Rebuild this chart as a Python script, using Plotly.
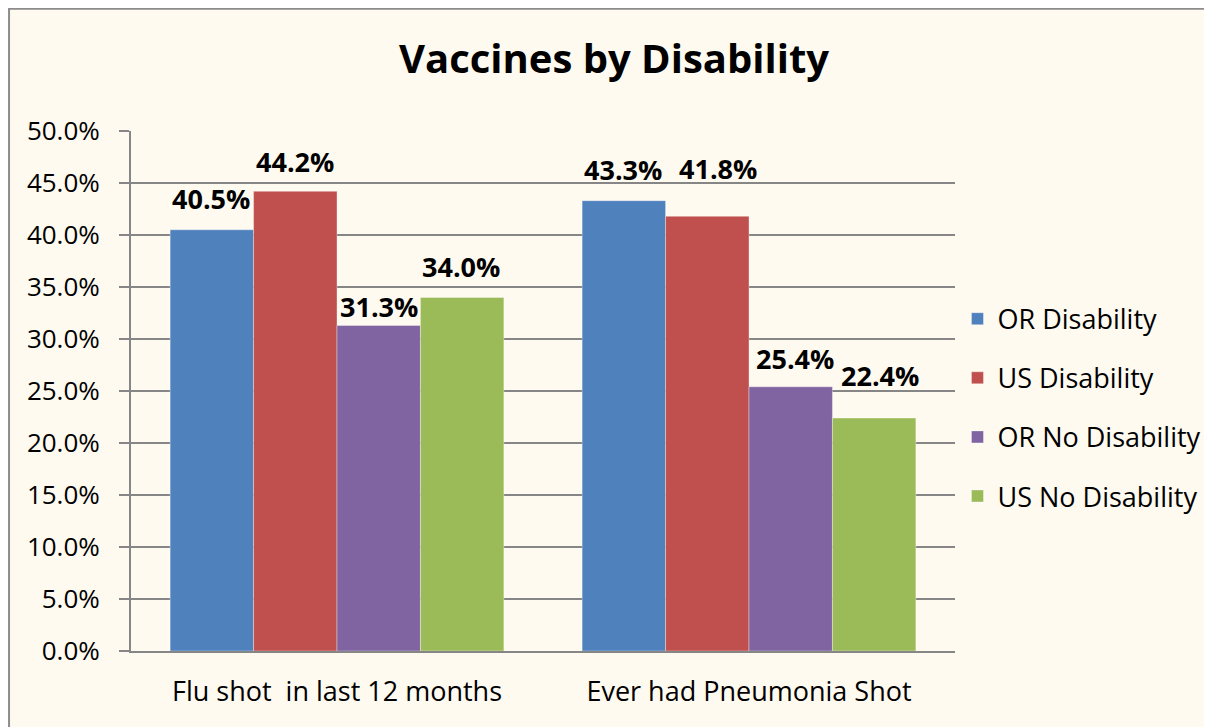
import plotly.graph_objects as go

categories = ["Flu shot  in last 12 months", "Ever had Pneumonia Shot"]
series_names = ["OR Disability", "US Disability", "OR No Disability", "US No Disability"]
or_disability = [40.5, 43.3]
us_disability = [44.2, 41.8]
or_no_disability = [31.3, 25.4]
us_no_disability = [34.0, 22.4]
y_ticks = [0, 5, 10, 15, 20, 25, 30, 35, 40, 45, 50]
y_tick_labels = ["0.0%", "5.0%", "10.0%", "15.0%", "20.0%", "25.0%",
                 "30.0%", "35.0%", "40.0%", "45.0%", "50.0%"]

colors = ["#4F81BD", "#C0504D", "#8064A2", "#9BBB59"]
bg = "#FFFAF0"
font = "'Open Sans', Lato, sans-serif"

# pixel placement of the data labels (hand-placed in the original)
bar_offsets = [-125, -42, 42, 125]
label_dx = [[-1, -1], [0, 11], [0, 4], [-1, 6]]
label_dy = [[31, 31], [30, 48], [19, 28], [31, 43]]

all_values = [or_disability, us_disability, or_no_disability, us_no_disability]

fig = go.Figure()
annotations = []
for i, (name, vals) in enumerate(zip(series_names, all_values)):
    fig.add_trace(go.Bar(
        x=categories,
        y=vals,
        name=name,
        legendgroup=name,
        marker=dict(color=colors[i], line=dict(color="rgba(255,255,255,0.35)", width=1)),
    ))
    for j, v in enumerate(vals):
        annotations.append(dict(
            x=categories[j], y=v, xref="x", yref="y",
            text=f"<b>{v:.1f}%</b>", showarrow=False,
            xanchor="center", yanchor="middle",
            xshift=bar_offsets[i] + label_dx[i][j], yshift=label_dy[i][j],
            font=dict(size=27, color="black", family=font),
        ))

# the html body has an 8px margin, so the figure is laid out 8px up/left
# chart area border
fig.add_shape(type="rect", xref="paper", yref="paper",
              x0=-0.148, x1=1.5, y0=-0.3, y1=1.235,
              line=dict(color="#8C8C8C", width=2), fillcolor="rgba(0,0,0,0)", layer="below")

fig.update_layout(
    width=1212, height=727,
    margin=dict(l=123, r=265, t=123, b=84, autoexpand=False),
    paper_bgcolor=bg, plot_bgcolor=bg,
    barmode="group", bargap=0.19, bargroupgap=0,
    title=dict(text="<b>Vaccines by Disability</b>", x=0.5, xanchor="center",
               y=0.93, yanchor="middle",
               font=dict(size=40, color="black", family=font)),
    font=dict(family=font, color="black", size=24),
    legend=dict(x=1.003, xanchor="left", y=0.468, yanchor="middle",
                font=dict(size=27, family=font), tracegroupgap=21,
                bgcolor="rgba(0,0,0,0)"),
    annotations=annotations,
    showlegend=True,
)
fig.update_xaxes(showline=True, linecolor="#868686", linewidth=2,
                 tickfont=dict(size=27), ticks="", showgrid=False,
                 ticklabelstandoff=16)
fig.update_yaxes(range=[0, 50], tickvals=y_ticks, ticktext=y_tick_labels,
                 showgrid=True, gridcolor="#868686", gridwidth=1.5,
                 showline=True, linecolor="#868686", linewidth=2,
                 ticks="outside", ticklen=10, tickcolor="#868686", tickwidth=2,
                 tickfont=dict(size=26), zeroline=False, ticklabelstandoff=14)

fig.write_html("out.html")
